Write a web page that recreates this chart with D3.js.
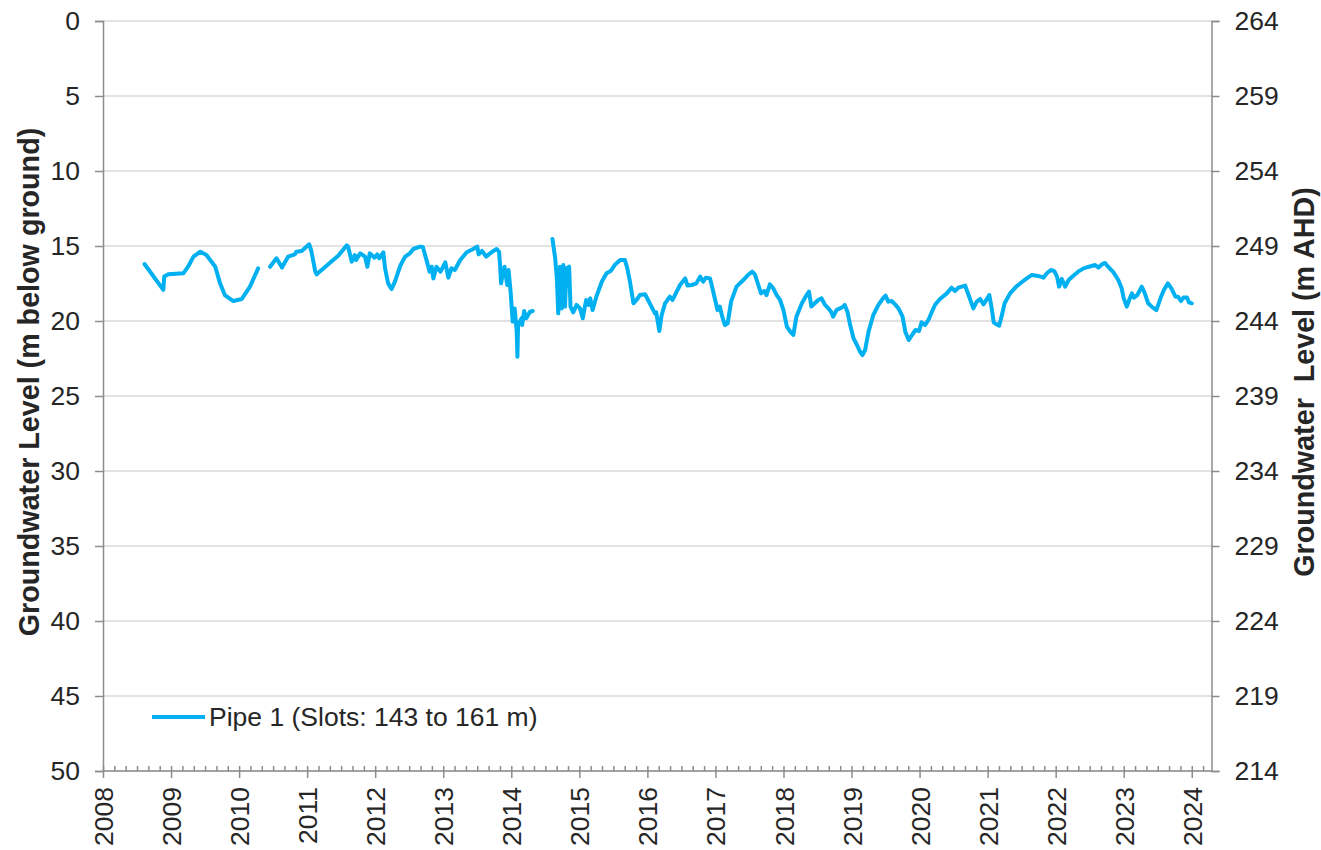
<!DOCTYPE html>
<html>
<head>
<meta charset="utf-8">
<script src="https://cdn.jsdelivr.net/npm/d3@7"></script>
<style>
  html, body { margin: 0; padding: 0; background: #fff; }
  svg { display: block; font-family: "Liberation Sans", Arial, sans-serif; }
</style>
</head>
<body>
<svg id="chart" width="1321" height="850"></svg>
<script>
// ---- Data (decimal years, metres below ground; null = gap in record) ----
const dates = [
  2008.61,2008.886,2008.90,2008.96,2009.18,2009.25,2009.33,2009.43,2009.52,2009.65,2009.72,2009.79,2009.915,2010.04,2010.16,2010.28,
  2010.37,
  2010.455,2010.55,2010.63,2010.72,2010.82,2010.84,2010.92,2011.03,2011.06,2011.12,2011.14,2011.31,2011.46,2011.58,2011.60,2011.655,2011.70,2011.72,2011.78,2011.85,2011.885,2011.92,2011.99,2012.03,2012.06,2012.12,2012.145,2012.19,2012.24,2012.29,2012.37,2012.44,2012.51,2012.56,2012.66,2012.70,2012.76,2012.80,2012.83,2012.855,2012.90,2012.96,2013.03,2013.075,2013.12,2013.17,2013.25,2013.345,2013.44,2013.50,2013.52,2013.57,2013.63,2013.67,2013.72,2013.785,2013.82,2013.835,2013.85,2013.88,2013.90,2013.94,2013.96,2013.99,2014.02,2014.05,2014.08,2014.09,2014.10,2014.15,2014.16,2014.19,2014.22,2014.275,2014.315,
  2014.46,
  2014.605,2014.645,2014.67,2014.69,2014.715,2014.74,2014.765,2014.79,2014.81,2014.85,2014.87,2014.91,2014.96,2015.01,2015.05,2015.10,2015.135,2015.16,2015.195,2015.25,2015.33,2015.40,2015.46,2015.52,2015.60,2015.67,2015.705,2015.74,2015.795,2015.84,2015.89,2015.965,2016.01,2016.06,2016.11,2016.13,2016.175,2016.21,2016.26,2016.33,2016.37,2016.43,2016.48,2016.555,2016.59,2016.65,2016.72,2016.775,2016.82,2016.86,2016.92,2016.945,2016.985,2017.03,2017.065,2017.10,2017.14,2017.18,2017.23,2017.31,2017.41,2017.48,2017.54,2017.58,2017.63,2017.67,2017.72,2017.75,2017.80,2017.85,2017.90,2017.95,2018.0,2018.05,2018.10,2018.145,2018.19,2018.27,2018.34,2018.375,2018.41,2018.46,2018.51,2018.56,2018.61,2018.66,2018.70,2018.73,2018.78,2018.83,2018.88,2018.90,2018.94,2018.98,2019.03,2019.08,2019.125,2019.16,2019.20,2019.25,2019.32,2019.395,2019.47,2019.50,2019.54,2019.59,2019.64,2019.69,2019.75,2019.79,2019.84,2019.89,2019.94,2019.99,2020.03,2020.08,2020.13,2020.18,2020.23,2020.30,2020.40,2020.47,2020.52,2020.57,2020.67,2020.72,2020.79,2020.84,2020.89,2020.94,2021.025,2021.06,2021.09,2021.13,2021.17,2021.21,2021.25,2021.33,2021.42,2021.50,2021.575,2021.65,2021.72,2021.78,2021.82,2021.87,2021.93,2021.98,2022.02,2022.05,2022.09,2022.14,2022.19,2022.26,2022.33,2022.41,2022.49,2022.58,2022.63,2022.68,2022.725,2022.77,2022.85,2022.92,2022.97,2023.00,2023.045,2023.08,2023.12,2023.15,2023.20,2023.265,2023.31,2023.36,2023.41,2023.48,2023.54,2023.59,2023.65,2023.70,2023.76,2023.80,2023.84,2023.88,2023.93,2023.96,2024.0
];
const levels = [
  16.2,17.93,17.04,16.89,16.82,16.38,15.71,15.38,15.6,16.38,17.49,18.27,18.67,18.53,17.71,16.49,
  null,
  16.38,15.82,16.44,15.71,15.56,15.38,15.33,14.89,15.3,16.71,16.89,16.22,15.64,14.96,15.02,16.04,15.6,15.93,15.49,15.71,16.38,15.49,15.78,15.56,15.82,15.42,16.49,17.49,17.87,17.38,16.3,15.71,15.49,15.2,15.04,15.07,16.04,16.71,16.38,17.16,16.38,16.71,16.09,17.11,16.49,16.6,15.93,15.42,15.2,15.04,15.56,15.33,15.71,15.56,15.38,15.2,15.38,16.27,17.49,16.71,16.38,17.6,16.6,18.04,20.04,19.16,20.71,22.38,20.27,19.82,20.27,19.33,19.82,19.38,19.33,
  null,
  14.53,15.82,17.16,19.49,16.38,19.16,16.27,19.04,16.49,16.38,19.04,19.42,18.93,19.16,19.82,18.6,18.93,18.49,19.27,18.38,17.38,16.82,16.67,16.27,15.93,15.93,16.49,17.27,18.82,18.6,18.27,18.22,18.6,19.04,19.49,19.42,20.67,19.6,18.82,18.38,18.6,18.04,17.6,17.16,17.64,17.6,17.49,17.04,17.38,17.11,17.16,17.6,18.38,19.27,19.04,19.71,20.27,20.16,18.71,17.71,17.27,16.93,16.71,16.89,17.6,18.16,18.0,18.27,17.56,17.82,18.27,18.6,19.27,20.38,20.71,20.93,19.71,18.82,18.27,18.04,19.04,18.82,18.6,18.49,18.93,19.16,19.38,19.71,19.27,19.16,19.04,18.93,19.38,20.27,21.16,21.6,22.04,22.27,21.93,20.71,19.6,18.93,18.44,18.31,18.71,18.67,18.89,19.16,19.71,20.71,21.27,20.93,20.6,20.67,20.09,20.27,19.93,19.4,18.9,18.53,18.16,17.78,18.0,17.78,17.64,18.27,19.16,18.71,18.53,18.89,18.27,19.16,20.09,20.22,20.31,19.6,18.82,18.16,17.71,17.42,17.16,16.93,16.98,17.04,17.11,16.82,16.6,16.67,17.04,17.71,17.2,17.71,17.27,16.98,16.71,16.49,16.38,16.27,16.44,16.22,16.13,16.38,16.76,17.27,17.82,18.49,19.04,18.6,18.16,18.44,18.27,17.71,18.16,18.82,19.04,19.27,18.49,17.93,17.49,17.82,18.38,18.38,18.67,18.44,18.44,18.76,18.82
];
const seriesName = "Pipe 1 (Slots: 143 to 161 m)";
const yearTicks = d3.range(2008, 2025);
const leftTicks = d3.range(0, 51, 5);
const rightTicks = d3.range(264, 213, -5);
const leftTitle = "Groundwater Level (m below ground)";
const rightTitle = "Groundwater\u00A0 Level (m AHD)";

// ---- Layout ----
const svg = d3.select("#chart");
const L = 103, R = 1211.5, T = 21, B = 771;
const textColor = "#262626", axisColor = "#8c8c8c", gridColor = "#d9d9d9", lineColor = "#00b0f0";
const fs = 26.5;

const x = d3.scaleLinear().domain([2008, 2024.29]).range([L, R]);
const y = d3.scaleLinear().domain([0, 50]).range([T, B]);
const yR = d3.scaleLinear().domain([264, 214]).range([T, B]);

// gridlines
svg.append("g").selectAll("line").data(leftTicks).join("line")
  .attr("x1", L).attr("x2", R).attr("y1", d => y(d)).attr("y2", d => y(d))
  .attr("stroke", gridColor).attr("stroke-width", 1.5);

// left axis
const gl = svg.append("g").attr("transform", `translate(${L},0)`)
  .call(d3.axisLeft(y).tickValues(leftTicks).tickSize(8).tickPadding(15));
// right axis
const gr = svg.append("g").attr("transform", `translate(${R},0)`)
  .call(d3.axisRight(yR).tickValues(rightTicks).tickSize(8).tickPadding(15));
// bottom minor ticks
const minor = d3.range(0, 16.29 * 6).map(i => 2008 + i / 6).filter(v => Math.abs(v - Math.round(v)) > 1e-6);
const gm = svg.append("g").attr("transform", `translate(0,${B})`)
  .call(d3.axisBottom(x).tickValues(minor).tickSize(-5).tickFormat(""));
gm.select(".domain").remove();
// bottom axis
const gb = svg.append("g").attr("transform", `translate(0,${B})`)
  .call(d3.axisBottom(x).tickValues(yearTicks).tickSize(7).tickFormat(d3.format("d")));
gb.selectAll(".tick line").attr("y1", -5);
gb.selectAll(".tick text")
  .attr("transform", "rotate(-90)")
  .attr("text-anchor", "end")
  .attr("x", -16).attr("y", 0).attr("dy", "0.36em");

[gl, gr, gm, gb].forEach(g => {
  g.selectAll(".domain").attr("stroke", axisColor).attr("stroke-width", 1.5);
  g.selectAll(".tick line").attr("stroke", axisColor).attr("stroke-width", 1.5);
  g.selectAll(".tick text").attr("fill", textColor).attr("font-size", fs)
    .attr("font-family", "'Liberation Sans', Arial, sans-serif");
});
gb.select(".domain").attr("d", `M${L},0H${R}`);

// line
const pts = dates.map((d, i) => ({ d, v: levels[i] }));
const line = d3.line().defined(p => p.v !== null).x(p => x(p.d)).y(p => y(p.v));
svg.append("path").datum(pts).attr("d", line)
  .attr("fill", "none").attr("stroke", lineColor).attr("stroke-width", 4)
  .attr("stroke-linejoin", "round").attr("stroke-linecap", "round");

// axis titles
svg.append("text").attr("transform", "translate(39,382) rotate(-90)")
  .attr("text-anchor", "middle").attr("font-weight", "bold").attr("font-size", 28.7)
  .attr("fill", textColor).text(leftTitle);
svg.append("text").attr("transform", "translate(1314,382) rotate(-90)")
  .attr("text-anchor", "middle").attr("font-weight", "bold").attr("font-size", 28.7)
  .attr("fill", textColor).text(rightTitle);

// legend
svg.append("line").attr("x1", 152).attr("x2", 205).attr("y1", 717).attr("y2", 717)
  .attr("stroke", lineColor).attr("stroke-width", 4);
svg.append("text").attr("x", 209).attr("y", 726).attr("font-size", fs)
  .attr("fill", textColor).text(seriesName);
</script>
</body>
</html>
